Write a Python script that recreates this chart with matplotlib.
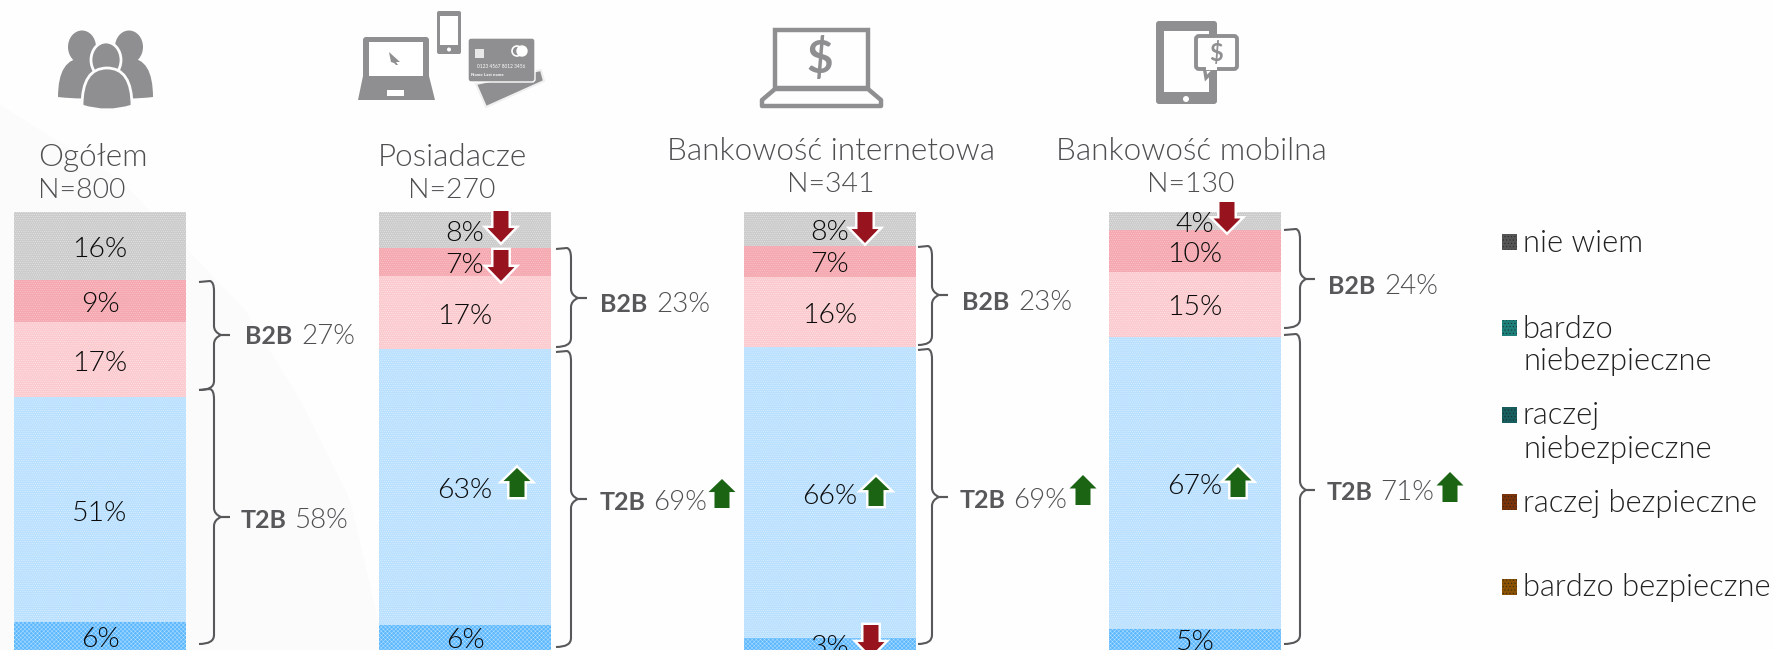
import matplotlib
matplotlib.use("Agg")
from matplotlib import pyplot as plt
from matplotlib.patches import Polygon, Rectangle, Circle, FancyBboxPatch, PathPatch, Ellipse
from matplotlib.path import Path
import numpy as np

plt.rcParams["font.family"] = ["Lato", "DejaVu Sans"]
plt.rcParams["hatch.linewidth"] = 0.3

W, H = 1774, 650
PX_PER_PCT = 4.41
BAR_STEP = 365
BAR_WIDTH = 172 / 365
THIN = 300

groups = ["Ogółem", "Posiadacze", "Bankowość internetowa", "Bankowość mobilna"]
sample_sizes = ["N=800", "N=270", "N=341", "N=130"]

# segments from the bottom up: bardzo bezp., raczej bezp., raczej niebezp., bardzo niebezp., nie wiem
bardzo_bezpieczne = [6.35, 5.67, 2.7, 4.8]
raczej_bezpieczne = [51.0, 62.6, 66.0, 66.2]
raczej_niebezpieczne = [17.0, 16.5, 15.9, 14.7]
bardzo_niebezpieczne = [9.5, 6.4, 7.0, 9.5]
nie_wiem = [15.4, 8.1, 7.7, 4.1]

labels_bb = ["6%", "6%", "3%", "5%"]
labels_rb = ["51%", "63%", "66%", "67%"]
labels_rn = ["17%", "17%", "16%", "15%"]
labels_bn = ["9%", "7%", "7%", "10%"]
labels_nw = ["16%", "8%", "8%", "4%"]

b2b_labels = ["27%", "23%", "23%", "24%"]
t2b_labels = ["58%", "69%", "69%", "71%"]

series = [bardzo_bezpieczne, raczej_bezpieczne, raczej_niebezpieczne, bardzo_niebezpieczne, nie_wiem]
series_labels = [labels_bb, labels_rb, labels_rn, labels_bn, labels_nw]
series_colors = ["#5cb8ff", "#bae0ff", "#fbcace", "#f5a8b0", "#cbcbcb"]
series_hatch = ["#bfe4ff", "#e6f5ff", "#ffeef0", "#fbd0d5", "#efefef"]
series_pattern = ["xxxxxxxx", "........", "........", "........", "........"]

legend_names = ["nie wiem", "bardzo\nniebezpieczne", "raczej\nniebezpieczne", "raczej bezpieczne", "bardzo bezpieczne"]
legend_colors = ["#555555", "#1c7f79", "#175f5f", "#7a3208", "#8a5200"]

TEXT_GREY = "#4f4f52"
BRACE_GREY = "#58585b"
ICON_GREY = "#8f8f91"
RED = "#97141f"
GREEN = "#1a6414"

fig = plt.figure(figsize=(W / 100, H / 100), dpi=100, facecolor="#fefefe")


def pixel_axes(zorder):
    a = fig.add_axes([0, 0, 1, 1], zorder=zorder)
    a.set_xlim(0, W)
    a.set_ylim(H, 0)
    a.axis("off")
    return a


# faint swoosh of the slide background
bg = pixel_axes(0)
bg.add_patch(Polygon([(0, 105), (120, 180), (245, 310), (300, 400), (350, 500), (385, 650), (0, 650)], closed=True,
                     facecolor="#fbfbfb", edgecolor="none"))

# the bars, on a percent scale
ax = fig.add_axes([0, 0, 1, 1], zorder=1)
ax.patch.set_alpha(0)
ax.set_xlim(-100 / BAR_STEP, (W - 100) / BAR_STEP)
ax.set_ylim(0, H / PX_PER_PCT)
ax.axis("off")

x = np.arange(len(groups))
bottom = np.zeros(len(groups))
for vals, labs, col, hc, pat in zip(series, series_labels, series_colors, series_hatch, series_pattern):
    vals = np.array(vals)
    ax.bar(x, vals, BAR_WIDTH, bottom=bottom, color=col, edgecolor=hc, hatch=pat, linewidth=0)
    for i, lab in enumerate(labs):
        ax.annotate(lab, (x[i], bottom[i] + vals[i] / 2), xytext=(0, -2.5), textcoords="offset points",
                    ha="center", va="center", fontsize=20.5, fontweight=THIN, color="#0a0a0a", zorder=5,
                    annotation_clip=False)
    bottom = bottom + vals

top = pixel_axes(2)
top.patch.set_alpha(0)


def brace(x0, xv, xt, y0, y1, ym):
    r = 9
    verts = [(x0, y0), (xv - 4, y0 - 1), (xv, y0), (xv, y0 + r), (xv, ym - r), (xv, ym - 3), (xt - 9, ym),
             (xt, ym), (xt - 9, ym), (xv, ym + 3), (xv, ym + r), (xv, y1 - r), (xv, y1), (x0, y1)]
    codes = [Path.MOVETO, Path.LINETO, Path.CURVE3, Path.CURVE3, Path.LINETO, Path.CURVE3, Path.CURVE3,
             Path.LINETO, Path.LINETO, Path.CURVE3, Path.CURVE3, Path.LINETO, Path.CURVE3, Path.CURVE3]
    top.add_patch(PathPatch(Path(verts, codes), fill=False, edgecolor=BRACE_GREY, linewidth=1.5))


def draw_arrow(cx, y0, y1, color, up=True, outline=True):
    hw, sw, hh = 13.5, 7.5, 0.45 * (y1 - y0)
    if up:
        pts = [(cx, y0), (cx + hw, y0 + hh), (cx + sw, y0 + hh), (cx + sw, y1), (cx - sw, y1), (cx - sw, y0 + hh), (cx - hw, y0 + hh)]
    else:
        pts = [(cx, y1), (cx + hw, y1 - hh), (cx + sw, y1 - hh), (cx + sw, y0), (cx - sw, y0), (cx - sw, y1 - hh), (cx - hw, y1 - hh)]
    if outline:
        top.add_patch(Polygon(pts, closed=True, facecolor="white", edgecolor="white", linewidth=3.5, joinstyle="miter"))
    top.add_patch(Polygon(pts, closed=True, facecolor=color, edgecolor="none"))


# headers
header_y = [(157, 190), (157, 190), (151, 184), (151, 184)]
header_x = [38, 452, 831, 1191]
for i, g in enumerate(groups):
    ha = "left" if i == 0 else "center"
    top.text(header_x[i], header_y[i][0], g, ha=ha, va="center", fontsize=22.7, fontweight=THIN, color=TEXT_GREY)
    top.text(header_x[i], header_y[i][1], sample_sizes[i], ha=ha, va="center", fontsize=20.5, fontweight=THIN, color=TEXT_GREY)

# braces and their labels
brace_x = [(199, 214, 230), (556, 571, 587), (918, 932, 948), (1284, 1300, 1315)]
b2b_span = [(282, 390, 335), (249, 347, 298), (247, 345, 295), (230, 328, 279)]
t2b_span = [(390, 644, 517), (352, 647, 499), (350, 644, 497), (335, 644, 490)]
b2b_pos = [(245, 337), (600, 305), (962, 303), (1328, 287)]
t2b_pos = [(241, 520), (600, 502), (960, 500), (1327, 493)]
for i in range(4):
    brace(*brace_x[i], *b2b_span[i])
    brace(*brace_x[i], *t2b_span[i])
    for name, pos, val, off in [("B2B", b2b_pos[i], b2b_labels[i], 56), ("T2B", t2b_pos[i], t2b_labels[i], 53)]:
        top.text(pos[0], pos[1], name, ha="left", va="center", fontsize=18, fontweight="bold", color=BRACE_GREY)
        top.text(pos[0] + off, pos[1], val, ha="left", va="center", fontsize=20, fontweight=THIN, color=TEXT_GREY)

# change arrows
draw_arrow(501, 211, 242, RED, up=False)
draw_arrow(501, 250, 281, RED, up=False)
draw_arrow(865, 212, 243, RED, up=False)
draw_arrow(1227, 202, 232, RED, up=False)
draw_arrow(871, 625, 656, RED, up=False)
draw_arrow(517, 468, 497, GREEN)
draw_arrow(876, 477, 506, GREEN)
draw_arrow(1238, 467, 497, GREEN)
draw_arrow(722, 479, 508, GREEN, outline=False)
draw_arrow(1083, 475, 505, GREEN, outline=False)
draw_arrow(1450, 472, 502, GREEN, outline=False)

# legend
legend_swatch_y = [242, 328, 415, 502, 587]
for name, c, ly in zip(legend_names, legend_colors, legend_swatch_y):
    top.add_patch(Rectangle((1502, ly - 8), 15, 16, facecolor=c, edgecolor="#222222", linewidth=0, hatch="....."))
    top.text(1523, ly + 1, name.split("\n")[0], ha="left", va="center", fontsize=22.2, fontweight=THIN, color="#222222")
    if "\n" in name:
        top.text(1524, ly + 34, name.split("\n")[1], ha="left", va="center", fontsize=22.2, fontweight=THIN, color="#222222")


def dome(x0, x1, ytop, ybase, ysag, **kw):
    xm = (x0 + x1) / 2
    verts = [(x0, ybase), (x0, ytop), (xm, ytop), (x1, ytop), (x1, ybase), (xm, ysag), (x0, ybase)]
    codes = [Path.MOVETO, Path.CURVE3, Path.CURVE3, Path.CURVE3, Path.CURVE3, Path.CURVE3, Path.CURVE3]
    top.add_patch(PathPatch(Path(verts, codes), **kw))


# people icon
top.add_patch(Ellipse((82, 47), 28, 33, facecolor=ICON_GREY, edgecolor="none"))
top.add_patch(Ellipse((129, 47), 28, 33, facecolor=ICON_GREY, edgecolor="none"))
dome(58, 108, 58, 97, 100, facecolor=ICON_GREY, edgecolor="none")
dome(105, 153, 58, 97, 100, facecolor=ICON_GREY, edgecolor="none")
top.add_patch(Ellipse((106, 60), 30, 36, facecolor=ICON_GREY, edgecolor="#fdfdfd", linewidth=2))
dome(82, 132, 68, 106, 114, facecolor=ICON_GREY, edgecolor="#fdfdfd", linewidth=2)

# laptop, phone and cards icon
top.add_patch(FancyBboxPatch((363, 37), 66, 53, boxstyle="round,pad=0,rounding_size=3", facecolor=ICON_GREY, edgecolor="none"))
top.add_patch(Rectangle((369, 42), 54, 34, facecolor="white", edgecolor="none"))
top.add_patch(Polygon([(363, 76), (429, 76), (435, 100), (358, 100)], closed=True, facecolor=ICON_GREY, edgecolor="none"))
top.add_patch(Rectangle((387, 90), 17, 6, facecolor="white", edgecolor="none"))
top.add_patch(Polygon([(389, 52), (400, 62), (396, 62), (398, 65), (396, 65), (394, 63), (391, 62)], closed=True, facecolor=ICON_GREY))
top.add_patch(FancyBboxPatch((437, 11), 24, 43, boxstyle="round,pad=0,rounding_size=2", facecolor=ICON_GREY, edgecolor="none"))
top.add_patch(Rectangle((440, 16), 18, 29, facecolor="white", edgecolor="none"))
top.add_patch(Circle((449, 49.5), 2, facecolor="white"))
top.add_patch(Polygon([(476, 84), (541, 70), (544, 81), (486, 107)], closed=True, facecolor=ICON_GREY, edgecolor="#f0f0f0", linewidth=1.5))
top.add_patch(FancyBboxPatch((468, 38), 67, 44, boxstyle="round,pad=0,rounding_size=3", facecolor=ICON_GREY, edgecolor="white", linewidth=1))
top.add_patch(Circle((517, 51), 5, facecolor="none", edgecolor="white", linewidth=1.2))
top.add_patch(Circle((522, 51), 5, facecolor="white", edgecolor="white"))
top.add_patch(Rectangle((475, 49), 9, 9, facecolor="white", edgecolor="none", alpha=.8))
top.text(501, 66, "0123 4567 8012 3456", ha="center", va="center", fontsize=3.4, color="white")
top.text(487, 75, "Name Last name", ha="center", va="center", fontsize=3.2, color="white", fontweight="bold")

# laptop with a dollar sign
top.add_patch(Rectangle((775, 30), 93, 58, facecolor="none", edgecolor=ICON_GREY, linewidth=3.2))
top.add_patch(Polygon([(775, 89), (868, 89), (881, 100), (881, 106), (762, 106), (762, 100)], closed=True,
                      facecolor="none", edgecolor=ICON_GREY, linewidth=3.2, joinstyle="round"))
top.text(820, 59, "$", ha="center", va="center", fontsize=33, fontweight="bold", color=ICON_GREY)

# tablet with a speech bubble
top.add_patch(FancyBboxPatch((1156, 21), 61, 83, boxstyle="round,pad=0,rounding_size=3", facecolor=ICON_GREY, edgecolor="none"))
top.add_patch(Rectangle((1164, 31), 45, 61, facecolor="#fefefe", edgecolor="none"))
top.add_patch(Circle((1186, 99), 3, facecolor="white"))
top.add_patch(Polygon([(1204, 66), (1206, 78), (1218, 66)], closed=True, facecolor="#fefefe", edgecolor=ICON_GREY, linewidth=2.4))
top.add_patch(FancyBboxPatch((1196, 36), 41, 33, boxstyle="round,pad=0,rounding_size=3", facecolor="#fefefe",
                             edgecolor=ICON_GREY, linewidth=2.8))
top.add_patch(Rectangle((1206, 66), 11, 4, facecolor="#fefefe", edgecolor="none"))
top.text(1216, 53, "$", ha="center", va="center", fontsize=17, color=ICON_GREY, fontweight="bold")

fig.savefig("out.png", dpi=100)
